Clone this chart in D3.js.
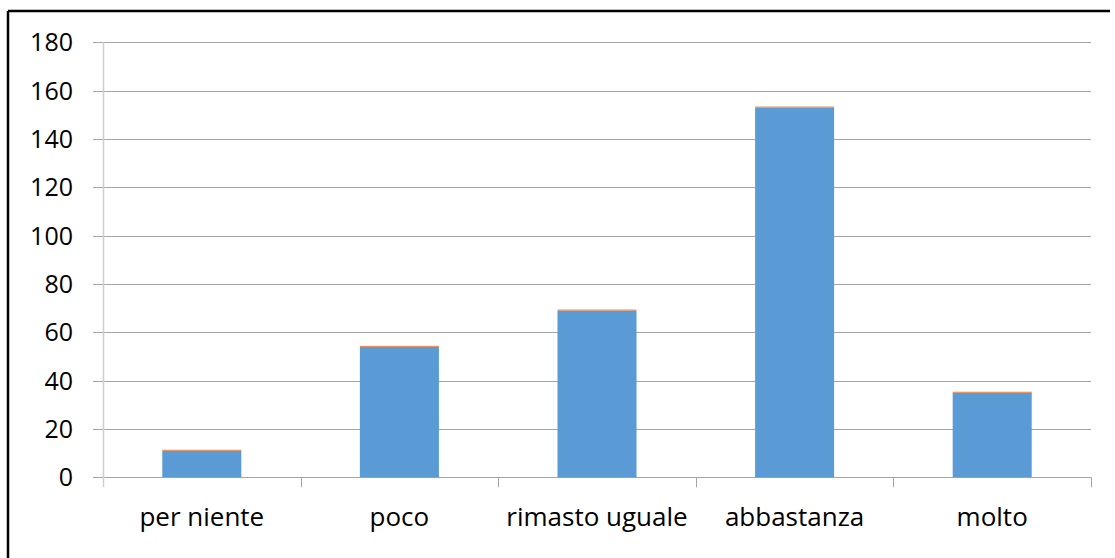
<!DOCTYPE html>
<html>
<head>
<meta charset="utf-8">
<script src="https://cdn.jsdelivr.net/npm/d3@7"></script>
<style>
  html, body { margin: 0; padding: 0; background: #fff; }
  svg { display: block; }
  text { font-family: "Open Sans", "Liberation Sans", sans-serif; fill: #000; }
</style>
</head>
<body>
<svg id="chart" width="1115" height="558"></svg>
<script>
// Survey answers and counts
const categories = ["per niente", "poco", "rimasto uguale", "abbastanza", "molto"];
const counts = [11, 54, 69, 153, 35];
// thin second series stacked on top of each bar
const extra = [0.4, 0.4, 0.4, 0.4, 0.4];
const yTicks = [0, 20, 40, 60, 80, 100, 120, 140, 160, 180];

const svg = d3.select("#chart");
const W = 1115, H = 558;
const plot = { left: 103, right: 1091, top: 42.3, bottom: 477.3 };

// outer frame: top and left edges
svg.append("line").attr("x1", 8).attr("x2", 1110).attr("y1", 11).attr("y2", 11)
  .attr("stroke", "#000").attr("stroke-width", 2.5);
svg.append("line").attr("x1", 8).attr("x2", 8).attr("y1", 11).attr("y2", H)
  .attr("stroke", "#000").attr("stroke-width", 2.5);

const x = d3.scaleBand().domain(categories)
  .range([plot.left, plot.right]).paddingInner(0.6).paddingOuter(0.3);
const xBoundary = d3.scaleBand().domain(categories)
  .range([plot.left, plot.right]).padding(0);
const y = d3.scaleLinear().domain([0, 180]).range([plot.bottom, plot.top]);

// horizontal gridlines
svg.append("g").selectAll("line").data(yTicks).join("line")
  .attr("x1", plot.left - 10).attr("x2", plot.right)
  .attr("y1", d => Math.round(y(d)) + 0.5).attr("y2", d => Math.round(y(d)) + 0.5)
  .attr("stroke", "#a6a6a6").attr("stroke-width", 1);

// vertical axis line
svg.append("line")
  .attr("x1", plot.left + 0.5).attr("x2", plot.left + 0.5)
  .attr("y1", plot.top).attr("y2", plot.bottom + 10)
  .attr("stroke", "#d0d0d0").attr("stroke-width", 1.5);

// category boundary ticks below the baseline
const bounds = categories.slice(1).map(c => xBoundary(c)).concat([plot.right]);
svg.append("g").selectAll("line").data(bounds).join("line")
  .attr("x1", d => Math.round(d) + 0.5).attr("x2", d => Math.round(d) + 0.5)
  .attr("y1", plot.bottom).attr("y2", plot.bottom + 10)
  .attr("stroke", "#a6a6a6").attr("stroke-width", 1);

// y tick labels
svg.append("g").selectAll("text").data(yTicks).join("text")
  .attr("x", 73).attr("y", d => y(d)).attr("dy", "0.36em")
  .attr("text-anchor", "end").attr("font-size", 25)
  .text(d => d);

// bars
svg.append("g").selectAll("rect").data(categories).join("rect")
  .attr("x", d => x(d)).attr("width", x.bandwidth())
  .attr("y", (d, i) => y(counts[i])).attr("height", (d, i) => y(0) - y(counts[i]))
  .attr("fill", "#5b9bd5");
svg.append("g").selectAll("rect").data(categories).join("rect")
  .attr("x", d => x(d)).attr("width", x.bandwidth())
  .attr("y", (d, i) => y(counts[i] + extra[i]))
  .attr("height", (d, i) => y(counts[i]) - y(counts[i] + extra[i]))
  .attr("fill", "#ed7d31");

// category labels
svg.append("g").selectAll("text").data(categories).join("text")
  .attr("x", d => x(d) + x.bandwidth() / 2).attr("y", 526)
  .attr("text-anchor", "middle").attr("font-size", 26)
  .text(d => d);
</script>
</body>
</html>
